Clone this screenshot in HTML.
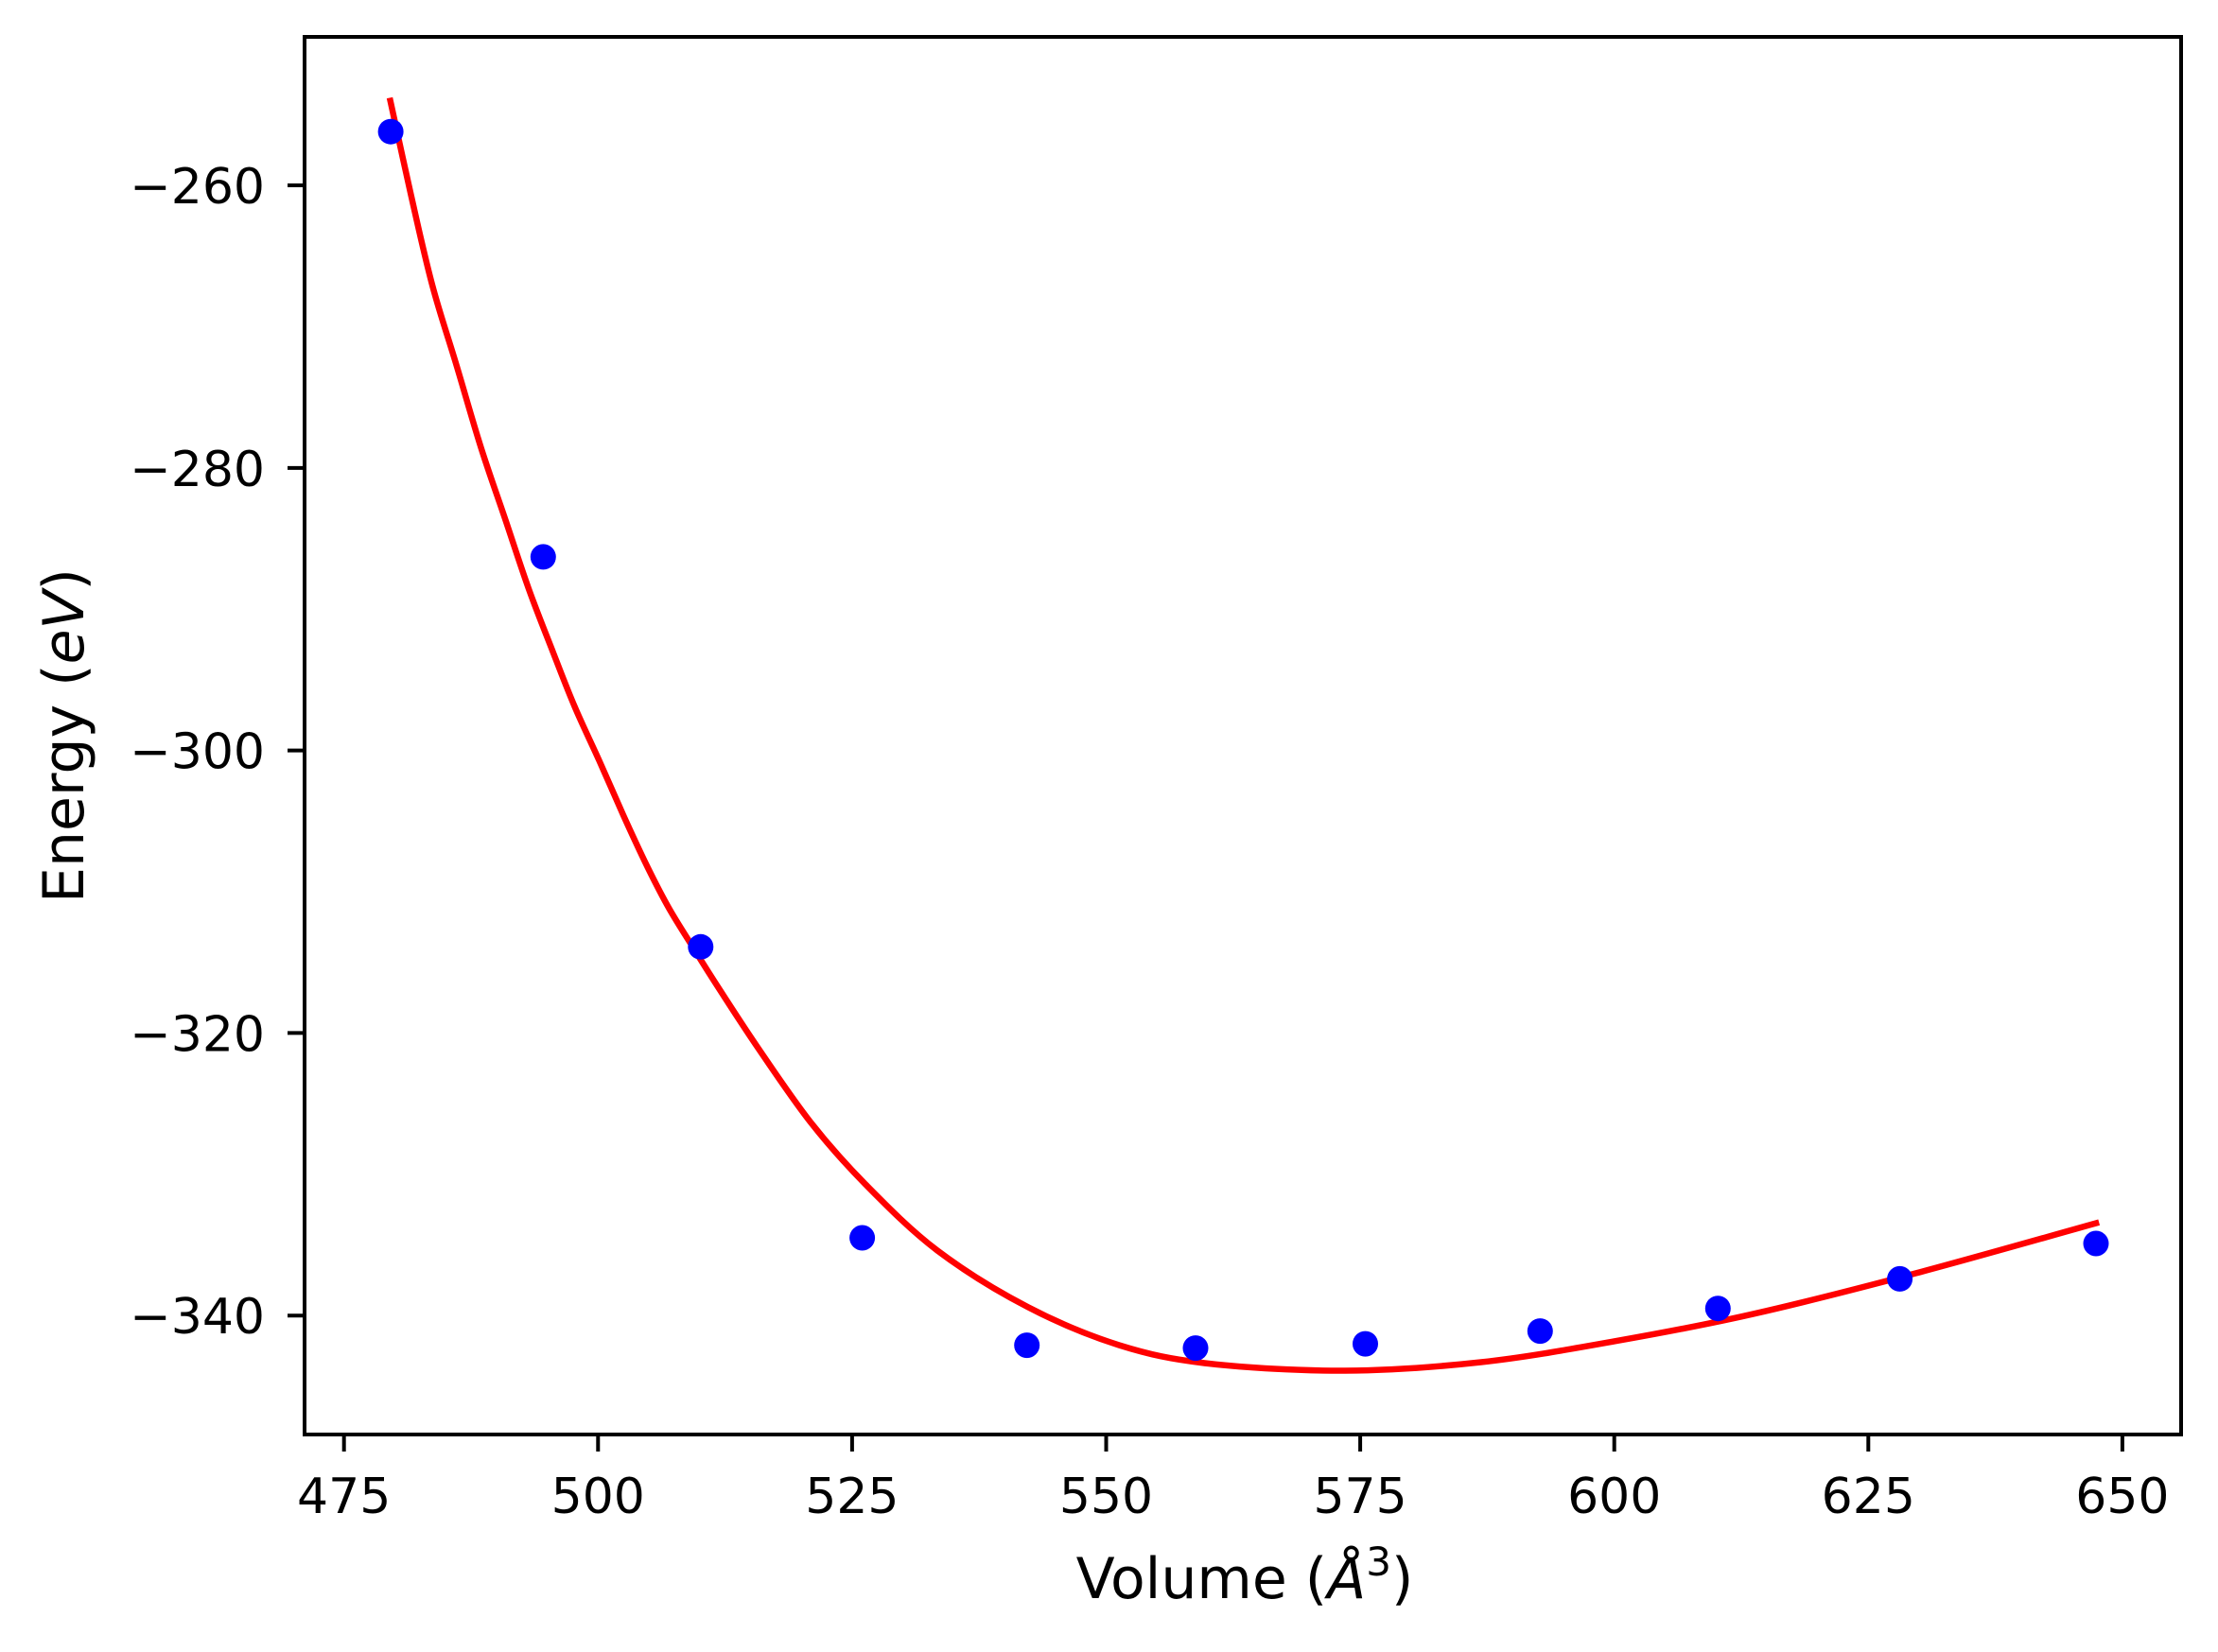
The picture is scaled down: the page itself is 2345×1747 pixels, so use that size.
<!DOCTYPE html>
<html><head><meta charset="utf-8"><style>
html,body{margin:0;padding:0;background:#fff;}
svg{display:block;font-family:"DejaVu Sans","Liberation Sans",sans-serif;}
</style></head><body>
<svg id="chart" width="2345" height="1747" viewBox="0 0 2345 1747" xmlns="http://www.w3.org/2000/svg">
<rect x="0" y="0" width="2345" height="1747" fill="#fff"/>
<g id="plot"></g>
<g id="axes"></g>
<text x="1316" y="1690" font-size="60" text-anchor="middle">Volume (<tspan font-style="italic">Å</tspan><tspan font-size="42" dy="-24">3</tspan><tspan dy="24">)</tspan></text>
<text transform="translate(88,778) rotate(-90)" font-size="60" text-anchor="middle">Energy (<tspan font-style="italic">eV</tspan>)</text>
</svg>
<script>
const xTicks = [475, 500, 525, 550, 575, 600, 625, 650];
const yTicks = [-260, -280, -300, -320, -340];
const dataVolume = [479.6, 494.6, 510.1, 526.0, 542.2, 558.8, 575.5, 592.7, 610.2, 628.1, 647.4];
const dataEnergy = [-256.2, -286.3, -313.9, -334.5, -342.1, -342.3, -342.0, -341.1, -339.5, -337.4, -334.9];
const fitVolume = [479.5, 481.6, 483.7, 486.1, 488.5, 490.9, 493.2, 495.6, 497.7, 500.1, 502.5, 504.9, 507.0, 509.4, 511.5, 515.6, 520.9, 526.3, 533.4, 542.3, 551.3, 560.1, 573.5, 586.9, 600.2, 613.6, 629.7, 647.7];
const fitEnergy = [-253.8, -260.7, -267.1, -272.8, -278.6, -283.7, -288.6, -293.1, -296.9, -300.7, -304.6, -308.3, -311.2, -314.0, -316.4, -320.9, -326.3, -330.7, -335.4, -339.4, -342.1, -343.4, -343.9, -343.3, -341.8, -339.9, -337.0, -333.4];

const NS = 'http://www.w3.org/2000/svg';
const L = 322, R = 2306, T = 39, B = 1517;
const xMin = 471.12, xMax = 655.78, yMin = -348.42, yMax = -249.49;
function xs(v){ return L + (v - xMin) / (xMax - xMin) * (R - L); }
function ys(v){ return B - (v - yMin) / (yMax - yMin) * (B - T); }
function mk(tag, attrs){ const e = document.createElementNS(NS, tag); for (const k in attrs) e.setAttribute(k, attrs[k]); return e; }

const plot = document.getElementById('plot');
const axes = document.getElementById('axes');

// fit curve (Catmull-Rom smoothing through read points)
const pts = fitVolume.map((v, i) => [xs(v), ys(fitEnergy[i])]);
let d = 'M' + pts[0][0].toFixed(1) + ',' + pts[0][1].toFixed(1);
for (let i = 0; i < pts.length - 1; i++) {
  const p0 = pts[Math.max(0, i - 1)], p1 = pts[i], p2 = pts[i + 1], p3 = pts[Math.min(pts.length - 1, i + 2)];
  const c1x = p1[0] + (p2[0] - p0[0]) / 6, c1y = p1[1] + (p2[1] - p0[1]) / 6;
  const c2x = p2[0] - (p3[0] - p1[0]) / 6, c2y = p2[1] - (p3[1] - p1[1]) / 6;
  d += ' C' + c1x.toFixed(1) + ',' + c1y.toFixed(1) + ' ' + c2x.toFixed(1) + ',' + c2y.toFixed(1) + ' ' + p2[0].toFixed(1) + ',' + p2[1].toFixed(1);
}
const curve = mk('path', {d: d, fill: 'none', stroke: '#ff0000', 'stroke-width': 6.5});


plot.appendChild(curve);

dataVolume.forEach((v, i) => {
  const c = mk('circle', {cx: xs(v).toFixed(1), cy: ys(dataEnergy[i]).toFixed(1), r: 13.5, fill: '#0000ff'});
  
  
  plot.appendChild(c);
});

const frame = mk('rect', {x: L, y: T, width: R - L, height: B - T, fill: 'none', stroke: '#000', 'stroke-width': 4});


axes.appendChild(frame);

xTicks.forEach(v => {
  const x = xs(v);
  const t = mk('line', {x1: x, y1: B, x2: x, y2: B + 18, stroke: '#000', 'stroke-width': 4});
  
  
  axes.appendChild(t);
  const lb = mk('text', {x: x, y: 1600, 'font-size': 52, 'text-anchor': 'middle'});
  
  
  lb.textContent = String(v);
  axes.appendChild(lb);
});
yTicks.forEach(v => {
  const y = ys(v);
  const t = mk('line', {x1: L - 18, y1: y, x2: L, y2: y, stroke: '#000', 'stroke-width': 4});
  
  
  axes.appendChild(t);
  const lb = mk('text', {x: 280, y: y + 19, 'font-size': 52, 'text-anchor': 'end'});
  
  
  lb.textContent = '\u2212' + String(Math.abs(v));
  axes.appendChild(lb);
});
</script>
</body></html>
